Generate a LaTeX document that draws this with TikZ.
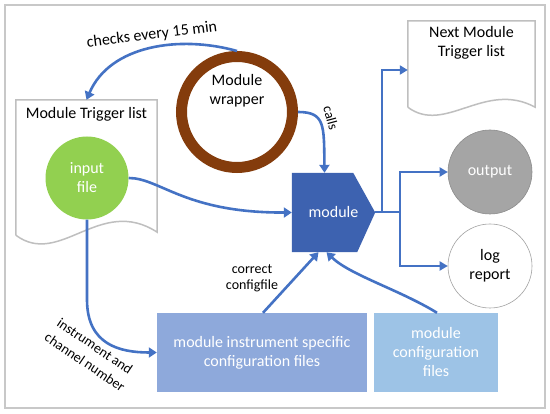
\documentclass[tikz,border=0pt]{standalone}
\usepackage{fontspec}
\setmainfont{Carlito}
\usepackage{tikz}
\usetikzlibrary{arrows.meta,positioning,calc}
\definecolor{cblue}{RGB}{68,114,196}
\definecolor{cmod}{RGB}{61,98,176}
\definecolor{cinst}{RGB}{142,169,219}
\definecolor{ccfg}{RGB}{157,195,230}
\definecolor{cgreen}{RGB}{146,208,80}
\definecolor{cbrown}{RGB}{132,60,12}
\definecolor{cout}{RGB}{165,165,165}
\definecolor{cline}{RGB}{191,191,191}
\definecolor{cframe}{RGB}{200,200,200}
\tikzset{
  txt/.style={font=\fontsize{16}{19}\selectfont, align=center},
  lbl/.style={font=\fontsize{14}{16}\selectfont, align=center},
  docnode/.style={rectangle, inner sep=0pt},
  docline/.style={draw=cline, line width=1.5pt},
  cfgbox/.style={rectangle, inner sep=0pt, minimum height=79pt, text=white,
      font=\fontsize{16}{19}\selectfont, align=center},
  flow/.style={-{Triangle[length=8pt,width=10pt]}, cblue, line width=2.6pt},
  branch/.style={-{Triangle[length=8pt,width=9pt]}, cblue, line width=2pt},
}
\begin{document}
\begin{tikzpicture}[x=1pt,y=-1pt]
\useasboundingbox (0,0) rectangle (550,414);
\fill[white] (0,0) rectangle (550,414);
\draw[draw=cframe, line width=2pt] (5,5) rectangle (545,408);
% trigger lists
\node[docnode, minimum width=141pt, minimum height=135pt] (trig) at (86.5,167.5) {};
\draw[docline] (trig.south west) -- (trig.north west) -- (trig.north east)
  -- ([yshift=3pt]trig.south east) .. controls (100,195) and (60,268) .. (trig.south west);
\node[txt, anchor=north] at ([yshift=-4pt]trig.north) {Module Trigger list};
\node[docnode, minimum width=127pt, minimum height=86pt] (nexttrig) at (471.5,64) {};
\draw[docline] (nexttrig.south west) -- (nexttrig.north west) -- (nexttrig.north east)
  -- (nexttrig.south east) .. controls (485,80) and (445,135) .. (nexttrig.south west);
\node[txt, anchor=north] at ([yshift=-2pt]nexttrig.north) {Next Module\\Trigger list};
% circles
\node[circle, fill=cgreen, minimum size=83pt, text=white, txt] (infile) at (87,178) {input\\file};
\node[circle, draw=cbrown, line width=11pt, minimum size=111pt] (wrapper) at (237,112) {};
\node[txt] at ([yshift=21pt]wrapper.center) {Module\\wrapper};
\node[circle, fill=cout, draw=cout!85!black, line width=0.6pt, minimum size=84pt,
  text=white, txt] (output) at (490,172) {output};
\node[circle, fill=white, draw=cline!85!black, line width=0.6pt, minimum size=84pt,
  txt] (logrep) at (490,266) {log\\report};
% module
\node[docnode, minimum width=83pt, minimum height=79pt] (module) at (333.5,212.5) {};
\fill[cmod] (module.north west) -- ([xshift=-22pt]module.north east) -- (module.east)
  -- ([xshift=-18pt]module.south east) -- (module.south west) -- cycle;
\node[txt, text=white] at (module.center) {module};
% configuration files
\node[cfgbox, fill=cinst, minimum width=210pt] (instcfg) at (262,352.5)
  {module instrument specific\\configuration files};
\node[cfgbox, fill=ccfg, minimum width=124pt] (modcfg) at (436,352.5)
  {module\\configuration\\files};
% connectors
\draw[flow] (wrapper.north) .. controls (180,35) and (110,45) .. (trig.north);
\node[txt, rotate=7] at (152,35) {checks every 15 min};
\draw[flow] (wrapper.east) .. controls (325,112) and (324,125) .. ([xshift=-9pt]module.north);
\node[lbl, rotate=-75] at (331,118) {calls};
\draw[flow] (infile.east) .. controls (160,178) and (185,213) .. (module.west);
\draw[flow] (infile.south) -- ++(0,80) .. controls +(0,45) and +(-37,0) .. (instcfg.west);
\node[lbl, rotate=-34] at (95,346) {instrument and};
\node[lbl, rotate=-34] at (85,362) {channel number};
\draw[flow] ([xshift=1pt]instcfg.north) -- ([xshift=-15pt]module.south);
\node[lbl] at (252,278) {correct\\configfile};
\draw[flow] ([xshift=1pt]modcfg.north) .. controls (400,290) and (350,275) .. ([xshift=-7pt]module.south);
\coordinate (busA) at (382,212.5);
\coordinate (busB) at (400,212.5);
\draw[cblue, line width=2pt] (module.east) -- (busB);
\draw[branch] (busA) |- ([yshift=-6pt]nexttrig.west);
\draw[branch] (busB) |- (output.west);
\draw[branch] (busB) |- (logrep.west);
\end{tikzpicture}
\end{document}
